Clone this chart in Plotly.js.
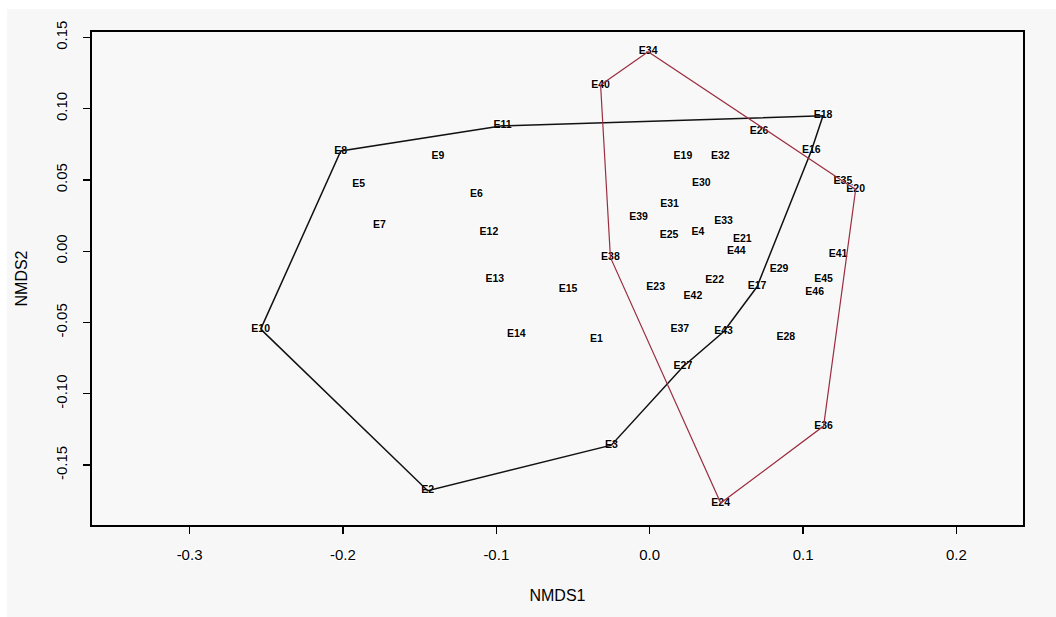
<!DOCTYPE html>
<html>
<head>
<meta charset="utf-8">
<script src="https://cdn.plot.ly/plotly-3.0.1.min.js"></script>
<style>
  html, body { margin: 0; padding: 0; background: #ffffff; width: 1056px; height: 617px; overflow: hidden; }
  #chart { position: absolute; left: 7px; top: 9px; width: 1049px; height: 608px; }
</style>
</head>
<body>
<div id="chart"></div>
<script>
// Site labels and NMDS scores
const sites = ['E1','E2','E3','E4','E5','E6','E7','E8','E9','E10','E11','E12','E13','E14','E15','E16','E17','E18',
  'E19','E20','E21','E22','E23','E24','E25','E26','E27','E28','E29','E30','E31','E32','E33','E34','E35','E36','E37','E38','E39','E40','E41','E42','E43','E44','E45','E46'];
const nmds1 = [-0.0348,-0.1447,-0.0250,0.0315,-0.1897,-0.1130,-0.1762,-0.2014,-0.1380,-0.2536,-0.0960,-0.1048,-0.1010,-0.0869,-0.0532,0.1054,0.0700,0.1130,
  0.0217,0.1343,0.0604,0.0424,0.0039,0.0463,0.0126,0.0713,0.0217,0.0887,0.0843,0.0337,0.0130,0.0461,0.0482,-0.0010,0.1260,0.1134,0.0196,-0.0256,-0.0072,-0.0320,0.1228,0.0282,0.0482,0.0565,0.1134,0.1076];
const nmds2 = [-0.0616,-0.1680,-0.1360,0.0130,0.0469,0.0399,0.0184,0.0703,0.0668,-0.0546,0.0880,0.0130,-0.0197,-0.0583,-0.0267,0.0705,-0.0249,0.0950,
  0.0663,0.0434,0.0086,-0.0207,-0.0256,-0.1766,0.0109,0.0838,-0.0810,-0.0607,-0.0127,0.0476,0.0329,0.0668,0.0207,0.1400,0.0492,-0.1226,-0.0548,-0.0043,0.0235,0.1166,-0.0020,-0.0319,-0.0565,0.0001,-0.0197,-0.0289];

// Hull vertex order for each group
const hullGroup1 = ['E10','E8','E11','E18','E16','E17','E43','E27','E3','E2','E10'];
const hullGroup2 = ['E40','E34','E35','E20','E36','E24','E38','E40'];

// Axis ticks
const xTicks = [-0.3, -0.2, -0.1, 0.0, 0.1, 0.2];
const yTicks = [-0.15, -0.10, -0.05, 0.00, 0.05, 0.10, 0.15];

function hullCoords(list) {
  const xs = [], ys = [];
  list.forEach(n => { const i = sites.indexOf(n); xs.push(nmds1[i]); ys.push(nmds2[i]); });
  return {xs, ys};
}
const h1 = hullCoords(hullGroup1);
const h2 = hullCoords(hullGroup2);

const halo = '1px 1px 1px #ffffff, -1px -1px 1px #ffffff, 1px -1px 1px #ffffff, -1px 1px 1px #ffffff';
const FONT = 'Liberation Sans, Arial, sans-serif';

const traces = [
  {
    x: nmds1, y: nmds2, text: sites, mode: 'text', type: 'scatter',
    textposition: 'middle center',
    textfont: {family: FONT, size: 10.5, color: '#000000', weight: 'bold', shadow: halo},
    hoverinfo: 'text', showlegend: false
  },
  {
    x: h1.xs, y: h1.ys, mode: 'lines', type: 'scatter',
    line: {color: '#111111', width: 1.5}, hoverinfo: 'skip', showlegend: false
  },
  {
    x: h2.xs, y: h2.ys, mode: 'lines', type: 'scatter',
    line: {color: '#9b2d40', width: 1.2}, hoverinfo: 'skip', showlegend: false
  }
];

const axisFont = {family: FONT, size: 15, color: '#000000', shadow: halo};

const layout = {
  width: 1049, height: 608,
  paper_bgcolor: '#f7f7f7', plot_bgcolor: '#f8f8f8',
  margin: {l: 85, r: 33, t: 23, b: 92},
  showlegend: false,
  xaxis: {
    range: [-0.3636, 0.2434], tickvals: xTicks, ticktext: xTicks.map(v => v.toFixed(1)),
    showgrid: false, zeroline: false, showline: true, mirror: true, linecolor: '#000000', linewidth: 1.6,
    ticks: 'outside', ticklen: 7, tickwidth: 1.3, tickcolor: '#000000',
    tickfont: axisFont, ticklabelstandoff: 8,
    title: {text: 'NMDS1', font: {family: FONT, size: 16, color: '#000000'}, standoff: 28}
  },
  yaxis: {
    range: [-0.192, 0.1538], tickvals: yTicks, ticktext: yTicks.map(v => v.toFixed(2)),
    showgrid: false, zeroline: false, showline: true, mirror: true, linecolor: '#000000', linewidth: 1.6,
    ticks: 'outside', ticklen: 7, tickwidth: 1.3, tickcolor: '#000000',
    tickfont: axisFont, tickangle: -90, ticklabelstandoff: 10,
    title: {text: 'NMDS2', font: {family: FONT, size: 16, color: '#000000'}, standoff: 22}
  }
};

Plotly.newPlot('chart', traces, layout, {displayModeBar: false, staticPlot: true});
</script>
</body>
</html>
